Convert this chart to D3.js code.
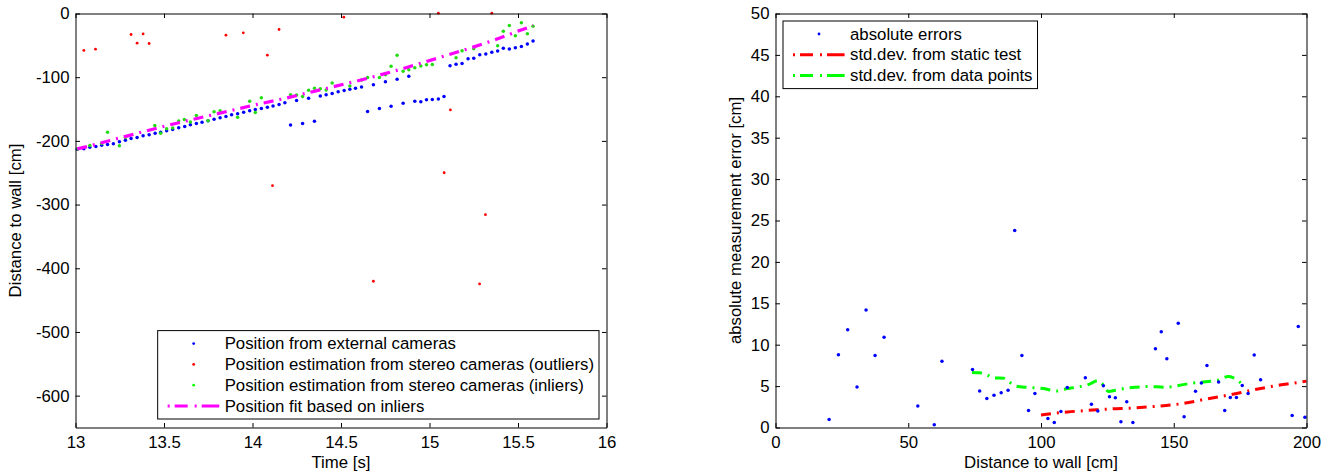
<!DOCTYPE html>
<html><head><meta charset="utf-8">
<script src="https://cdn.jsdelivr.net/npm/d3@7"></script>
<style>
body{margin:0;background:#fff}
text{font-family:"Liberation Sans",Arial,Helvetica,sans-serif;fill:#000}
</style>
</head><body><svg id="c" width="1334" height="475"></svg>
<script>
// ---------------- LEFT PLOT DATA ----------------
const extTime = [13.010,13.047,13.081,13.115,13.148,13.181,13.214,13.248,13.282,13.314,13.348,13.382,13.416,13.450,13.481,13.515,13.549,13.583,13.617,13.649,13.683,13.715,13.749,13.783,13.817,13.850,13.882,13.916,13.950,13.984,14.016,14.050,14.084,14.116,14.150,14.183,14.215,14.249,14.283,14.317,14.350,14.383,14.416,14.450,14.484,14.518,14.550,14.582,14.616,14.650,14.683,14.717,14.751,14.783,14.817,14.851,14.883,14.917,14.951,14.983,15.016,15.050,15.082,15.116,15.150,15.184,15.218,15.250,15.284,15.318,15.352,15.385,15.417,15.451,15.485,15.519,15.553,15.585];
const extPos  = [-213.0,-212.5,-209.9,-208.8,-206.7,-205.7,-204.6,-201.5,-198.9,-196.3,-194.7,-192.1,-190.5,-187.9,-186.3,-184.2,-182.1,-179.5,-177.4,-174.8,-172.7,-170.6,-168.5,-165.9,-163.8,-161.7,-159.1,-157.5,-155.2,-152.8,-150.8,-149.1,-147.3,-145.2,-142.8,-140.3,-175.0,-136.6,-172.6,-133.2,-169.0,-129.5,-127.7,-125.5,-123.0,-120.9,-118.9,-117.2,-115.3,-154.0,-111.7,-149.3,-107.3,-145.5,-103.3,-140.8,-98.7,-137.9,-138.6,-135.5,-134.9,-134.4,-130.2,-81.9,-79.8,-78.4,-71.2,-70.4,-64.9,-63.6,-60.7,-58.9,-54.7,-55.7,-53.6,-52.0,-47.9,-43.0];

const outTime = [13.047,13.113,13.314,13.348,13.382,13.416,13.850,13.948,14.084,14.113,14.150,14.516,14.683,15.050,15.083,15.118,15.283,15.316,15.352];
const outPos  = [-58.0,-56.0,-33.0,-46.6,-32.0,-47.1,-34.0,-30.4,-65.4,-270.3,-25.1,-5.8,-420.4,0.5,-250.0,-151.4,-424.6,-315.9,0.5];

const inTime = [13.013,13.081,13.148,13.181,13.248,13.282,13.448,13.481,13.515,13.549,13.583,13.615,13.649,13.683,13.749,13.783,13.817,13.916,13.984,14.016,14.050,14.215,14.249,14.283,14.317,14.350,14.383,14.416,14.450,14.550,14.616,14.650,14.717,14.751,14.783,14.817,14.851,14.883,14.917,14.951,14.983,15.016,15.150,15.184,15.250,15.385,15.417,15.451,15.485,15.519,15.553,15.585];
const inPos  = [-212.8,-207.1,-204.0,-186.5,-207.6,-194.8,-176.0,-188.0,-181.0,-179.6,-168.6,-166.6,-170.5,-160.3,-168.4,-154.3,-152.7,-162.7,-137.7,-155.5,-132.3,-127.6,-128.1,-130.4,-120.5,-117.4,-118.2,-120.3,-109.3,-113.7,-104.6,-100.6,-100.6,-96.3,-82.7,-65.4,-90.7,-88.2,-85.3,-82.4,-80.6,-80.1,-69.6,-58.3,-55.5,-50.5,-27.8,-18.9,-34.8,-14.7,-31.7,-19.9];

const fitTime = [13.010,13.085,13.216,13.348,13.480,13.620,13.752,13.888,14.025,14.166,14.298,14.430,14.571,14.703,14.834,14.966,15.100,15.233,15.365,15.496,15.585];
const fitPos  = [-212.5,-207.7,-197.8,-188.2,-178.5,-169.0,-160.6,-151.7,-142.7,-134.4,-125.5,-116.7,-107.3,-97.9,-87.8,-76.9,-65.4,-54.0,-41.9,-28.2,-19.0];

const leftXTicks = [13,13.5,14,14.5,15,15.5,16];
const leftYTicks = [0,-100,-200,-300,-400,-500,-600];
const leftLegend = ["Position from external cameras","Position estimation from stereo cameras (outliers)","Position estimation from stereo cameras (inliers)","Position fit based on inliers"];

// ---------------- RIGHT PLOT DATA ----------------
const errDist = [20.2,23.7,27.2,30.7,34.1,37.5,40.9,53.6,59.8,62.7,74.2,76.9,79.6,82.3,85.0,87.6,90.1,92.8,95.3,97.7,102.6,105.0,107.5,109.9,116.7,119.0,121.4,123.5,125.8,128.0,130.1,132.3,134.6,143.1,145.3,147.4,151.7,153.9,158.2,160.4,162.5,166.9,169.2,171.3,173.6,175.8,178.0,180.3,182.7,194.6,196.9,199.4];
const errAbs  = [0.97,8.8,11.8,4.9,14.2,8.7,10.9,2.6,0.33,8.0,7.0,4.4,3.5,3.9,4.2,4.5,23.8,8.7,2.05,4.1,1.09,0.6,1.93,4.83,6.0,2.82,2.0,5.03,3.7,3.58,0.69,3.1,0.6,9.5,11.55,8.3,12.6,1.29,4.39,5.36,7.48,5.51,2.05,3.62,3.62,5.07,4.1,8.77,5.76,1.45,12.2,1.25];

const staticDist = [100,105,110,115,121,127,134,142,150,155,160,165,170,175,180,185,190,195,200];
const staticStd  = [1.5,1.72,1.88,2.0,2.14,2.25,2.34,2.52,2.75,2.98,3.3,3.6,3.88,4.2,4.55,4.85,5.13,5.35,5.6];

const dataDist = [74,77,80,82,86,88,91,95,101,106,110,114,118,121.4,123,125.5,128,132,136,141,146,150,153,158,163,167,170.5,172.5,175.5];
const dataStd  = [6.65,6.6,6.3,6.0,5.95,5.5,4.95,4.85,4.7,4.4,4.7,4.9,5.2,5.65,5.3,4.35,4.5,4.75,4.87,4.95,4.87,4.95,5.15,5.4,5.55,5.75,6.15,6.0,5.3];

const rightXTicks = [0,50,100,150,200];
const rightYTicks = [0,5,10,15,20,25,30,35,40,45,50];
const rightLegend = ["absolute errors","std.dev. from static test","std.dev. from data points"];

// ---------------- DRAWING ----------------
const FS = 16.8;
const DASH = "10,6,2,6";
const BLUE = "#0000ff", RED = "#ff0000", GREEN = "#00ff00", GREENDOT = "#22dd11", MAG = "#ff00ff";
const svg = d3.select("#c");

function drawAxes(x, y, xTicks, yTicks, xLabel, yLabel, yLabelX) {
  const [x0, x1] = x.range(), [y0, y1] = y.range();
  const g = svg.append("g");
  const ts = 4.5;
  const b = g.append("g").attr("transform", `translate(0,${y0})`)
    .call(d3.axisBottom(x).tickValues(xTicks).tickFormat(d => String(d)).tickSizeInner(-ts).tickSizeOuter(0).tickPadding(9));
  const t = g.append("g").attr("transform", `translate(0,${y1})`)
    .call(d3.axisTop(x).tickValues(xTicks).tickFormat("").tickSizeInner(-ts).tickSizeOuter(0));
  const l = g.append("g").attr("transform", `translate(${x0},0)`)
    .call(d3.axisLeft(y).tickValues(yTicks).tickFormat(d => String(d)).tickSizeInner(-ts).tickSizeOuter(0).tickPadding(6));
  const r = g.append("g").attr("transform", `translate(${x1},0)`)
    .call(d3.axisRight(y).tickValues(yTicks).tickFormat("").tickSizeInner(-ts).tickSizeOuter(0));
  [b, t, l, r].forEach(a => {
    a.selectAll("path,line").attr("stroke", "#000").attr("stroke-width", 1);
    a.selectAll("text").attr("font-size", FS).attr("font-family", null).style("fill", "#000");
  });
  g.append("text").attr("x", (x0 + x1) / 2).attr("y", 468).attr("text-anchor", "middle")
    .attr("font-size", FS).text(xLabel);
  g.append("text").attr("transform", `translate(${yLabelX},${(y0 + y1) / 2}) rotate(-90)`)
    .attr("text-anchor", "middle").attr("font-size", FS).text(yLabel);
}

function drawLegend(items, anchor, left, topOrBottom) {
  const g = svg.append("g");
  const rowH = 20.8;
  const boxH = 26 + (items.length - 1) * rowH;
  const widths = items.map(it => {
    const tx = g.append("text").attr("font-size", FS).text(it.label);
    const w = tx.node().getComputedTextLength();
    tx.remove();
    return w;
  });
  const maxW = d3.max(widths);
  const boxW = 67 + maxW + 5;
  let bx, by;
  if (anchor === "se") { bx = left - boxW; by = topOrBottom - boxH; }
  else { bx = left; by = topOrBottom; }
  g.append("rect").attr("x", bx).attr("y", by).attr("width", boxW).attr("height", boxH)
    .attr("fill", "#fff").attr("stroke", "#000").attr("stroke-width", 1);
  items.forEach((it, i) => {
    const cy = by + 13 + i * rowH;
    if (it.type === "dot") {
      g.append("circle").attr("cx", bx + 36).attr("cy", cy).attr("r", 1.4).attr("fill", it.color);
    } else {
      g.append("line").attr("x1", bx + 10).attr("x2", bx + 61.6).attr("y1", cy).attr("y2", cy)
        .attr("stroke", it.color).attr("stroke-width", 3).attr("stroke-dasharray", "2,5,13,7,2,5,18");
    }
    g.append("text").attr("x", bx + 67).attr("y", cy).attr("dy", "0.33em").attr("font-size", FS).text(it.label);
  });
}

// ----- left -----
const lx = d3.scaleLinear().domain([13, 16]).range([75.5, 606.5]);
const ly = d3.scaleLinear().domain([-650, 0]).range([427.5, 13.5]);

const extData = extTime.map((t, i) => [t, extPos[i]]);
const outData = outTime.map((t, i) => [t, outPos[i]]);
const inData = inTime.map((t, i) => [t, inPos[i]]);
const fitData = fitTime.map((t, i) => [t, fitPos[i]]);

svg.append("g").selectAll("circle").data(extData).join("circle")
  .attr("cx", d => lx(d[0])).attr("cy", d => ly(d[1])).attr("r", 1.75).attr("fill", BLUE);
svg.append("g").selectAll("circle").data(outData).join("circle")
  .attr("cx", d => lx(d[0])).attr("cy", d => ly(d[1])).attr("r", 1.4).attr("fill", RED);
svg.append("g").selectAll("circle").data(inData).join("circle")
  .attr("cx", d => lx(d[0])).attr("cy", d => ly(d[1])).attr("r", 1.75).attr("fill", GREENDOT);
svg.append("path").datum(fitData)
  .attr("d", d3.line().x(d => lx(d[0])).y(d => ly(d[1])))
  .attr("fill", "none").attr("stroke", MAG).attr("stroke-width", 3.2).attr("stroke-dasharray", DASH);

drawAxes(lx, ly, leftXTicks, leftYTicks, "Time [s]", "Distance to wall [cm]", 21);
drawLegend([
  {label: leftLegend[0], type: "dot", color: BLUE},
  {label: leftLegend[1], type: "dot", color: RED},
  {label: leftLegend[2], type: "dot", color: GREEN},
  {label: leftLegend[3], type: "line", color: MAG}
], "se", 599, 419);

// ----- right -----
const rx = d3.scaleLinear().domain([0, 200]).range([775.5, 1306.5]);
const ry = d3.scaleLinear().domain([0, 50]).range([427.5, 13.5]);

const errData = errDist.map((d, i) => [d, errAbs[i]]);
const staticData = staticDist.map((d, i) => [d, staticStd[i]]);
const dataData = dataDist.map((d, i) => [d, dataStd[i]]);
const rline = d3.line().curve(d3.curveMonotoneX).x(d => rx(d[0])).y(d => ry(d[1]));

svg.append("path").datum(dataData).attr("d", rline)
  .attr("fill", "none").attr("stroke", GREEN).attr("stroke-width", 3).attr("stroke-dasharray", DASH);
svg.append("path").datum(staticData).attr("d", rline)
  .attr("fill", "none").attr("stroke", RED).attr("stroke-width", 3).attr("stroke-dasharray", DASH);
svg.append("g").selectAll("circle").data(errData).join("circle")
  .attr("cx", d => rx(d[0])).attr("cy", d => ry(d[1])).attr("r", 1.75).attr("fill", BLUE);

drawAxes(rx, ry, rightXTicks, rightYTicks, "Distance to wall [cm]", "absolute measurement error [cm]", 740.5);
drawLegend([
  {label: rightLegend[0], type: "dot", color: BLUE},
  {label: rightLegend[1], type: "line", color: RED},
  {label: rightLegend[2], type: "line", color: GREEN}
], "nw", 783, 21);
</script>
</body></html>
